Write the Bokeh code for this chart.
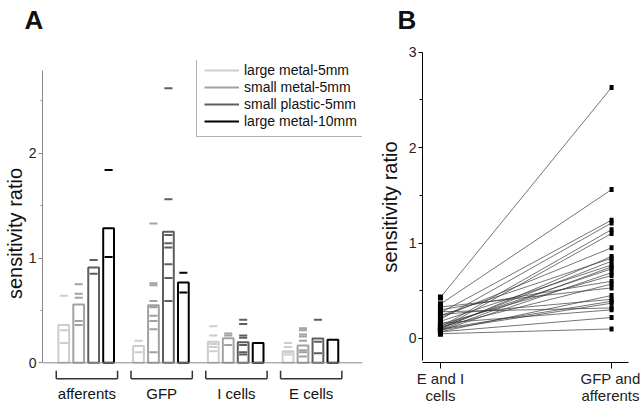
from bokeh.plotting import figure
from bokeh.models import Span, Legend, LegendItem, FixedTicker, Range1d, Title
from bokeh.layouts import row
from bokeh.embed import file_html
from bokeh.resources import INLINE
from bokeh.core.properties import value

FONT = "Liberation Sans"

# ---------------- data: panel A ----------------
groups = ["afferents", "GFP", "I cells", "E cells"]
series = ["large metal-5mm", "small metal-5mm", "small plastic-5mm", "large metal-10mm"]
colors = ["#cdcdcd", "#a2a2a2", "#5e5e5e", "#000000"]

lm5_means = [0.36, 0.16, 0.20, 0.11]
sm5_means = [0.556, 0.55, 0.235, 0.165]
sp5_means = [0.91, 1.25, 0.197, 0.232]
lm10_means = [1.285, 0.766, 0.19, 0.22]

lm5_points = [[0.64, 0.31, 0.19], [0.21, 0.10], [0.35, 0.26, 0.18, 0.15, 0.11], [0.19, 0.15, 0.10, 0.08]]
sm5_points = [[0.75, 0.66, 0.62, 0.40, 0.36],
              [1.33, 0.76, 0.74, 0.59, 0.54, 0.53, 0.45, 0.40, 0.32, 0.10],
              [0.28, 0.26, 0.17],
              [0.33, 0.31, 0.27, 0.25, 0.21, 0.12, 0.10, 0.06]]
sp5_points = [[0.98, 0.85],
              [2.62, 1.56, 1.22, 1.14, 1.10, 0.94, 0.81, 0.59],
              [0.41, 0.37, 0.26, 0.24, 0.17, 0.10, 0.08],
              [0.41, 0.20, 0.09]]
lm10_points = [[1.84, 1.01], [0.86, 0.67], [0.19], []]

# ---------------- data: panel B ----------------
b_labels = ["E and I\ncells", "GFP and\nafferents"]
ei_cells = [0.43, 0.36, 0.27, 0.20, 0.12, 0.10, 0.22, 0.10, 0.24, 0.11, 0.18, 0.09, 0.13,
            0.08, 0.15, 0.30, 0.12, 0.33, 0.07, 0.25, 0.10, 0.09, 0.28, 0.16, 0.07, 0.05]
gfp_aff = [2.63, 1.56, 1.24, 1.21, 1.14, 1.10, 0.95, 0.86, 0.84, 0.81, 0.77, 0.75, 0.73,
           0.69, 0.66, 0.60, 0.57, 0.53, 0.45, 0.41, 0.39, 0.37, 0.32, 0.30, 0.22, 0.10]


def panel_letter(p, letter, offset, spacer_standoff):
    # spacer next to the frame, the letter outermost (top of the canvas)
    p.add_layout(Title(text=" ", text_font=FONT, text_font_size="10px",
                       standoff=spacer_standoff), "above")
    p.add_layout(Title(text=letter, text_font=FONT, text_font_size="26px",
                       text_font_style="bold", align="left", offset=offset,
                       standoff=0, text_color="#111111"), "above")


# ================= Panel A =================
pa = figure(width=375, height=406, x_range=Range1d(-1.42, 19.98), y_range=Range1d(-0.417, 2.885),
            output_backend="svg", toolbar_location=None, x_axis_location=None,
            min_border_left=41, min_border_right=13, min_border_top=60, min_border_bottom=0)
pa.frame_align = False
pa.outline_line_color = None
pa.grid.visible = False
pa.background_fill_color = "white"
pa.border_fill_color = "white"

means = [lm5_means, sm5_means, sp5_means, lm10_means]
points = [lm5_points, sm5_points, sp5_points, lm10_points]
slot = 5
half = 0.27

pa.add_layout(Span(location=0, dimension="width", line_color="#8a8a8a", line_width=1))

items = []
for s, name in enumerate(series):
    xs = [g * slot + s for g in range(len(groups))]
    pa.vbar(x=xs, top=means[s], bottom=0, width=0.72, fill_color="white",
            line_color=colors[s], line_width=2)
for s, name in enumerate(series):
    dx, dy = [], []
    for g in range(len(groups)):
        for v in points[s][g]:
            dx.append(g * slot + s)
            dy.append(v)
    r = pa.segment(x0=[x - half for x in dx], y0=dy, x1=[x + half for x in dx], y1=dy,
                   line_color=colors[s], line_width=2)
    items.append(LegendItem(label=name, renderers=[r]))

# group brackets and labels
by = -0.153
bt = -0.075
bx0 = [g * slot - 0.5 for g in range(len(groups))]
bx1 = [g * slot + 3.6 for g in range(len(groups))]
pa.segment(x0=bx0, y0=[by] * 4, x1=bx1, y1=[by] * 4, line_color="#333333", line_width=1.5)
pa.segment(x0=bx0, y0=[by] * 4, x1=bx0, y1=[bt] * 4, line_color="#333333", line_width=1.5)
pa.segment(x0=bx1, y0=[by] * 4, x1=bx1, y1=[bt] * 4, line_color="#333333", line_width=1.5)
pa.text(x=[(a + b) / 2 for a, b in zip(bx0, bx1)], y=[-0.29] * 4, text=groups,
        text_align="center", text_baseline="middle", text_font=value(FONT),
        text_font_size="15px", text_color="#111111")

legend = Legend(items=items, location=(154, 269))
legend.border_line_color = "#666666"
legend.border_line_width = 1
legend.background_fill_color = "white"
legend.background_fill_alpha = 1
legend.label_text_font = FONT
legend.label_text_font_size = "14px"
legend.label_text_line_height = 1.0
legend.label_text_color = "#111111"
legend.glyph_width = 35
legend.glyph_height = 14
legend.label_height = 14
legend.spacing = 1
legend.padding = 7
legend.margin = 0
legend.label_standoff = 5
pa.add_layout(legend)

ya = pa.yaxis[0]
ya.bounds = (0, 2.79)
ya.ticker = FixedTicker(ticks=[0, 1, 2], minor_ticks=[0.5, 1.5, 2.5])
ya.major_tick_out = 4
ya.major_tick_in = 0
ya.minor_tick_out = 2
ya.minor_tick_in = 0
ya.axis_line_color = "#8a8a8a"
ya.major_tick_line_color = "#8a8a8a"
ya.minor_tick_line_color = "#8a8a8a"
ya.major_label_text_font = FONT
ya.major_label_text_font_size = "14px"
ya.major_label_text_color = "#222222"
ya.major_label_standoff = 2
ya.axis_label = "sensitivity ratio"
ya.axis_label_text_font = FONT
ya.axis_label_text_font_size = "20px"
ya.axis_label_text_font_style = "normal"
ya.axis_label_text_color = "#111111"
ya.axis_label_standoff = 0

panel_letter(pa, "A", -18, 13)

# ================= Panel B =================
pb = figure(width=265, height=406, x_range=Range1d(-0.105, 1.099), y_range=Range1d(-0.2516, 3.007),
            output_backend="svg", toolbar_location=None,
            min_border_left=47, min_border_right=12, min_border_top=51, min_border_bottom=44)
pb.frame_align = False
pb.outline_line_color = None
pb.grid.visible = False
pb.background_fill_color = "white"
pb.border_fill_color = "white"

pb.segment(x0=[0] * len(ei_cells), y0=ei_cells, x1=[1] * len(gfp_aff), y1=gfp_aff,
           line_color="#3a3a3a", line_width=0.7)
pb.rect(x=[0] * len(ei_cells), y=ei_cells, width=5, height=6, width_units="screen",
        height_units="screen", fill_color="black", line_color=None)
pb.rect(x=[1] * len(gfp_aff), y=gfp_aff, width=4, height=5, width_units="screen",
        height_units="screen", fill_color="black", line_color=None)

yb = pb.yaxis[0]
yb.bounds = (-0.23, 3.0)
yb.ticker = FixedTicker(ticks=[0, 1, 2, 3], minor_ticks=[0.5, 1.5, 2.5])
yb.major_tick_out = 4
yb.major_tick_in = 0
yb.minor_tick_out = 3
yb.minor_tick_in = 0
yb.axis_line_color = "black"
yb.major_label_text_font = FONT
yb.major_label_text_font_size = "14px"
yb.major_label_text_color = "#222222"
yb.major_label_standoff = 2
yb.axis_label = "sensitivity ratio"
yb.axis_label_text_font = FONT
yb.axis_label_text_font_size = "20px"
yb.axis_label_text_font_style = "normal"
yb.axis_label_text_color = "#111111"
yb.axis_label_standoff = 5

xb = pb.xaxis[0]
xb.ticker = FixedTicker(ticks=[0, 1], minor_ticks=[])
xb.major_label_overrides = {0: b_labels[0], 1: b_labels[1]}
xb.major_tick_out = 6
xb.major_tick_in = 0
xb.axis_line_color = "black"
xb.major_label_text_font = FONT
xb.major_label_text_font_size = "15px"
xb.major_label_text_color = "#222222"
xb.major_label_text_line_height = 1.0
xb.major_label_standoff = 1

panel_letter(pb, "B", -25, 4)

layout = row(pa, pb)
open("out.html", "w").write(file_html(layout, INLINE))
